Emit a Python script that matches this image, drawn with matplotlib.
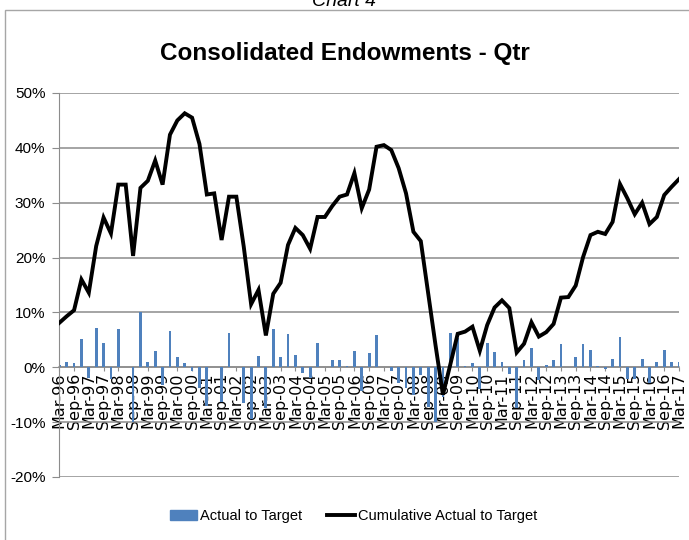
import matplotlib
matplotlib.use('Agg')
import matplotlib.pyplot as plt
from matplotlib.patches import Patch, Rectangle
from matplotlib.lines import Line2D
import numpy as np

# quarter labels, Mar-96 .. Mar-17
years = list(range(96, 100)) + list(range(0, 18))
months = ['Mar', 'Jun', 'Sep', 'Dec']
quarters = [m + '-' + '%02d' % y for y in years for m in months][:85]

# quarterly actual vs target (%)
actual_to_target = [
    0.5, 0.9, 0.7, 5.1, -2.0, 7.1, 4.4, -2.2, 6.9, 0.0,
    -10.0, 10.0, 0.9, 2.9, -3.2, 6.6, 1.8, 0.7, -0.6, -3.7,
    -7.0, 0.0, -6.4, 6.3, 0.0, -6.5, -9.5, 2.1, -7.5, 6.9,
    1.8, 6.0, 2.3, -1.0, -2.0, 4.5, 0.0, 1.4, 1.3, 0.2,
    2.9, -4.4, 2.6, 5.8, 0.0, -0.6, -2.8, -3.7, -5.0, -1.4,
    -7.3, -10.0, -5.5, 6.2, 5.3, 0.2, 0.7, -4.0, 4.4, 2.8,
    0.9, -1.3, -7.5, 1.3, 3.6, -2.3, 0.4, 1.4, 4.3, 0.0,
    1.8, 4.3, 3.2, 0.3, -0.4, 1.6, 5.5, -2.1, -2.2, 1.5,
    -2.8, 0.9, 3.1, 1.0, 1.0]

# cumulative actual vs target (%)
cumulative = [
    8.1, 9.3, 10.4, 16.0, 13.6, 22.1, 27.3, 24.4, 33.3, 33.3,
    20.3, 32.7, 34.0, 37.7, 33.3, 42.4, 45.0, 46.3, 45.5, 40.7,
    31.5, 31.7, 23.2, 31.1, 31.1, 22.0, 11.5, 14.1, 5.8, 13.4,
    15.4, 22.3, 25.4, 24.1, 21.6, 27.4, 27.4, 29.4, 31.1, 31.5,
    35.4, 29.0, 32.4, 40.2, 40.5, 39.6, 36.3, 31.7, 24.7, 23.0,
    13.5, 4.0, -5.0, 0.5, 6.1, 6.5, 7.4, 3.0, 7.7, 10.9,
    12.2, 10.8, 2.7, 4.3, 8.2, 5.6, 6.4, 7.9, 12.7, 12.8,
    14.9, 20.1, 24.1, 24.7, 24.3, 26.5, 33.4, 30.8, 27.9, 30.0,
    26.1, 27.4, 31.4, 32.9, 34.3]

y_ticks = [-20, -10, 0, 10, 20, 30, 40, 50]

bar_color = '#4F81BD'
grid_color = '#8C8C8C'
font = 'Liberation Sans'

fig = plt.figure(figsize=(6.89, 5.40), dpi=100)
ax = fig.add_axes([59.3 / 689, 63 / 540, (679 - 59.3) / 689, (477 - 93) / 540])

# x axis sits on zero; set this before the tick labels (it resets ticks)
ax.spines['bottom'].set_position(('data', 0))
ax.spines['bottom'].set_color(grid_color)
ax.spines['bottom'].set_linewidth(1.1)
ax.spines['bottom'].set_zorder(1)
ax.spines['left'].set_color(grid_color)
ax.spines['top'].set_visible(False)
ax.spines['right'].set_visible(False)

x = np.arange(len(quarters))
ax.bar(x, actual_to_target, width=0.38, color=bar_color, zorder=2)
ax.plot(x, cumulative, color='black', lw=2.8, zorder=3, solid_joinstyle='miter')

ax.set_xlim(0, len(quarters) - 1)
ax.set_ylim(-20, 50)
ax.set_yticks(y_ticks)
ax.set_yticklabels(['%d%%' % v for v in y_ticks], family=font, fontsize=11)
ax.yaxis.grid(True, color=grid_color, lw=1.1, zorder=0)
ax.set_axisbelow(True)

ax.set_xticks(x[::2])
ax.set_xticklabels(quarters[::2], rotation=90, family='DejaVu Sans', fontsize=11.5)
ax.tick_params(axis='x', length=3, pad=1, color=grid_color)
ax.tick_params(axis='y', length=5, pad=5, color=grid_color)

fig.text(0.5, 1 - 60 / 540, 'Consolidated Endowments - Qtr', ha='center', va='baseline',
         family=font, fontsize=17.5, fontweight='bold')
fig.text(0.5, 1 - 6 / 540, 'Chart 4', ha='center', va='baseline', style='italic',
         family=font, fontsize=14)

fig.add_artist(Rectangle((5 / 689, -0.1), 1.0, 1.1 - 10 / 540, transform=fig.transFigure,
                         fill=False, edgecolor='#A6A6A6', lw=1))

handles = [Patch(color=bar_color), Line2D([], [], color='black', lw=2.8)]
fig.legend(handles, ['Actual to Target', 'Cumulative Actual to Target'], loc='center',
           bbox_to_anchor=(0.513, 1 - 516 / 540), ncol=2, frameon=False,
           prop={'family': font, 'size': 10.5}, handlelength=1.9,
           handletextpad=0.2, columnspacing=1.7)

fig.savefig('out.png', dpi=100)
